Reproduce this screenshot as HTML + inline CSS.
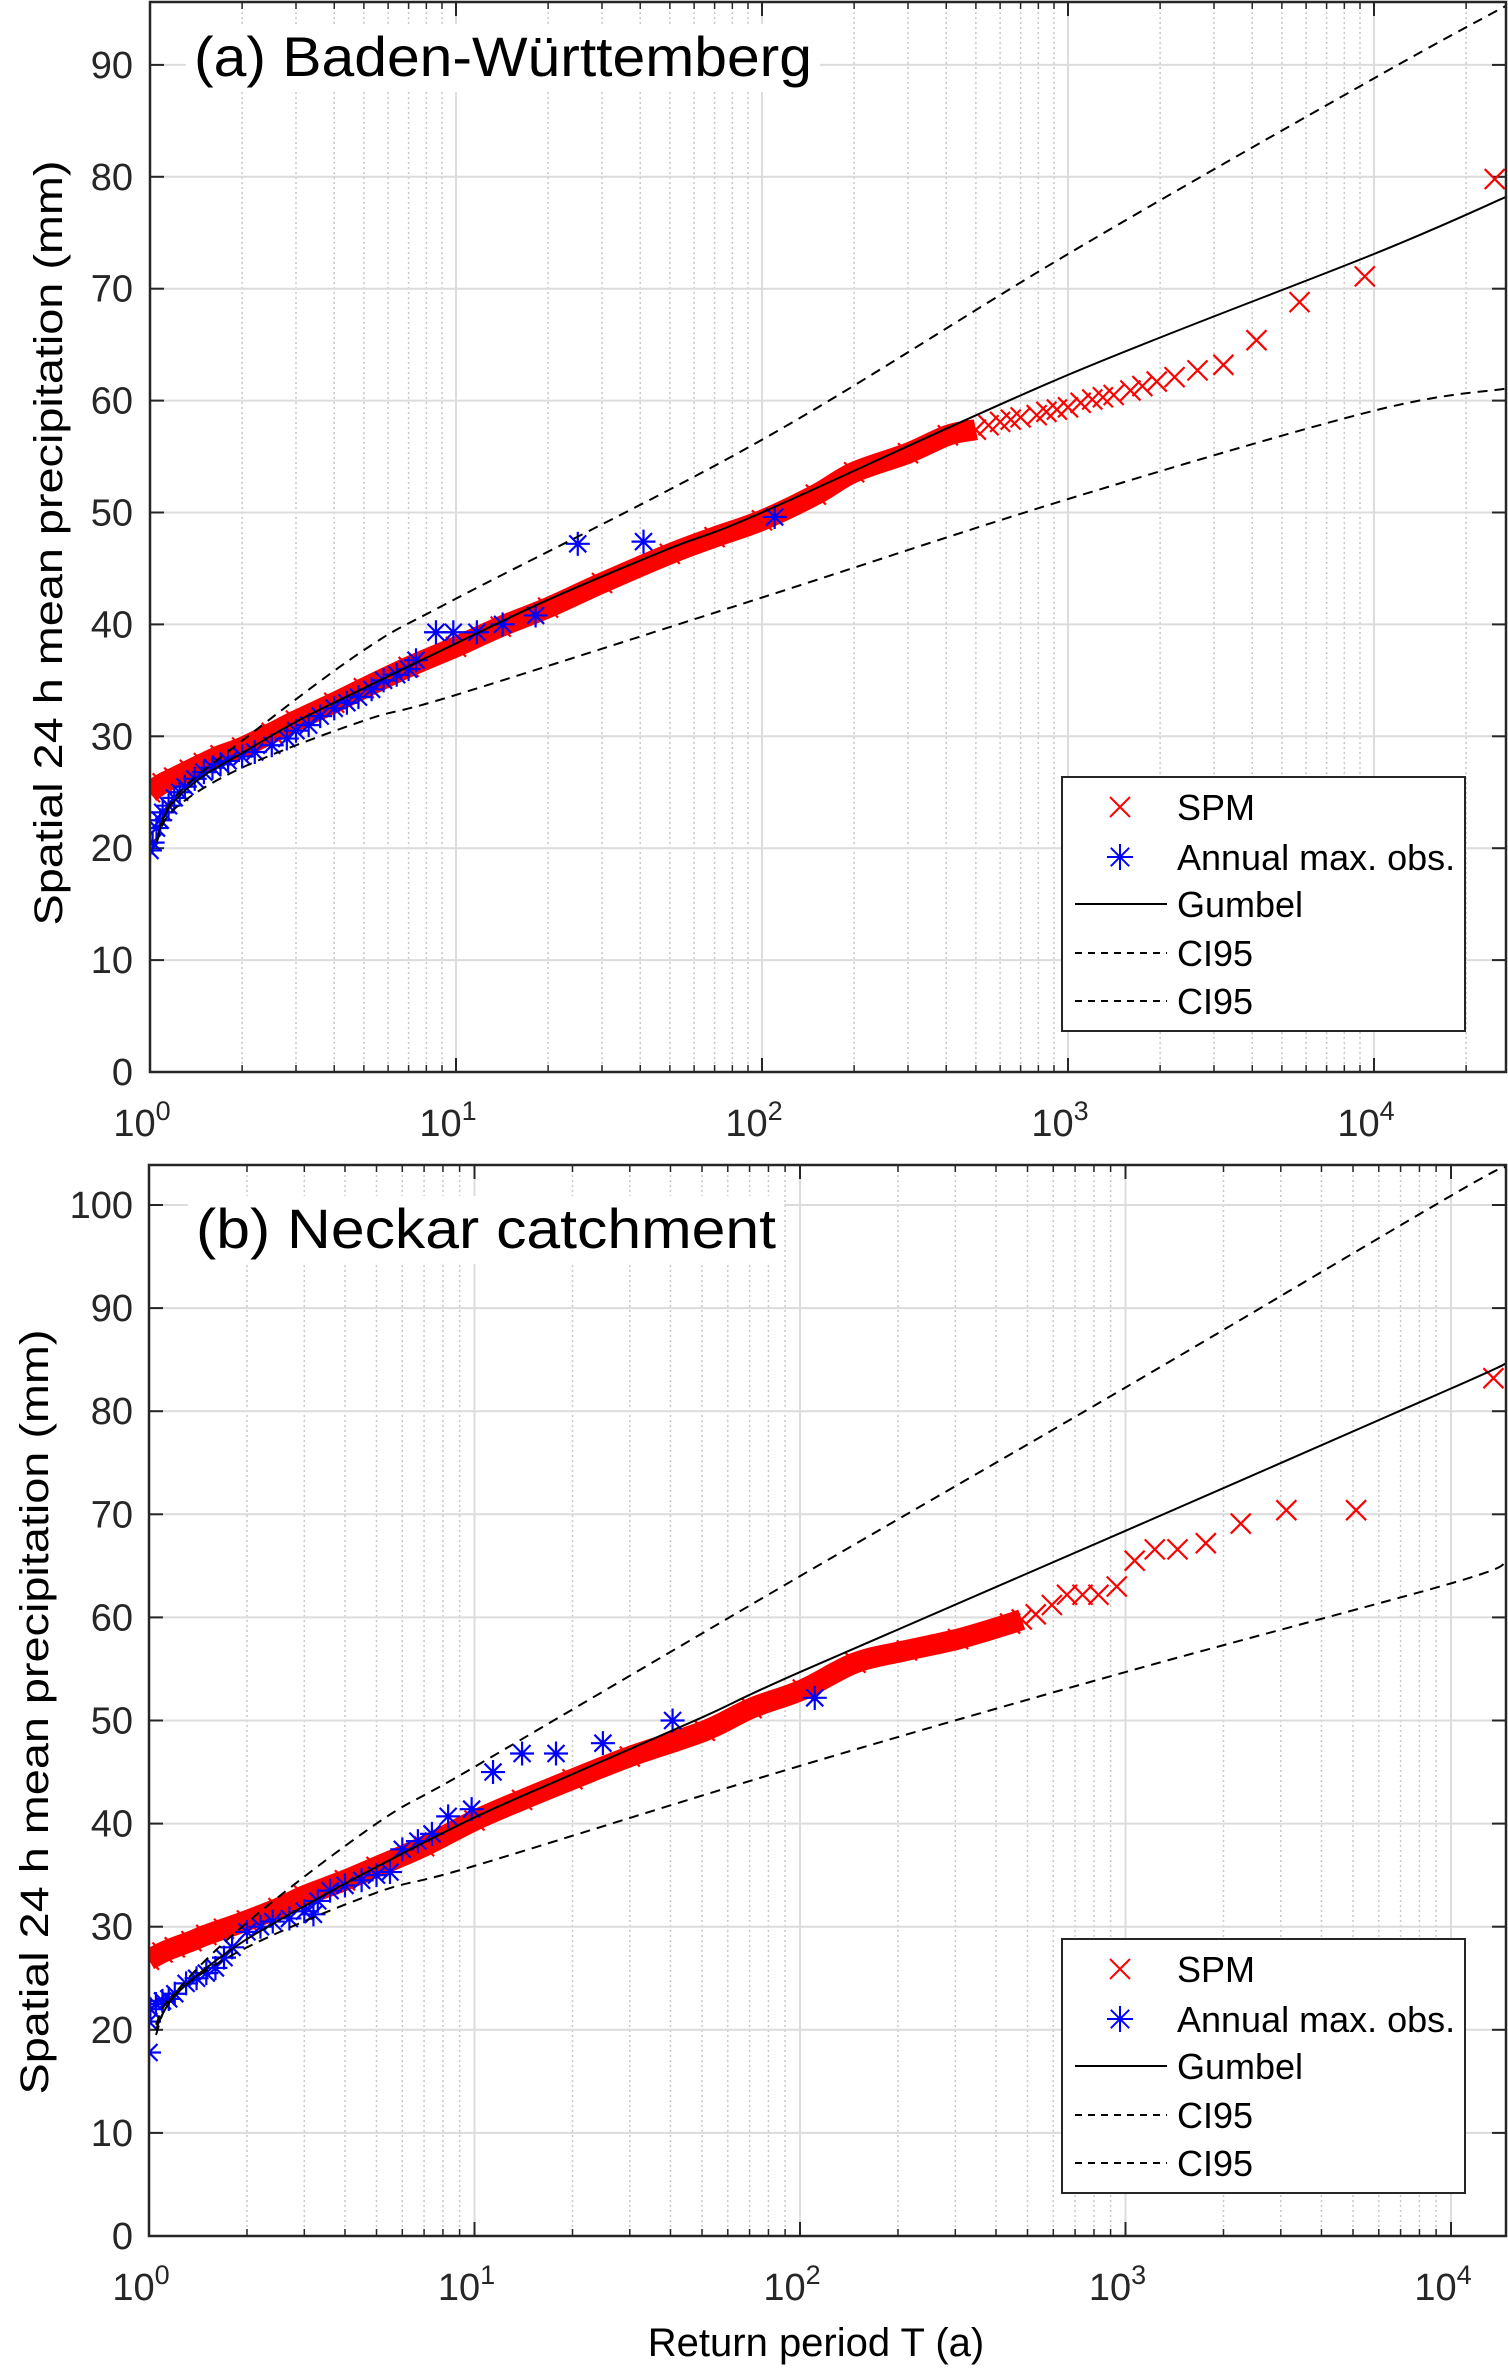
<!DOCTYPE html>
<html><head><meta charset="utf-8">
<style>
html,body{margin:0;padding:0;background:#fff;}
svg{display:block;font-family:"Liberation Sans",sans-serif;}
</style></head>
<body>
<svg id="fig" width="1508" height="2368" viewBox="0 0 1508 2368" xmlns="http://www.w3.org/2000/svg"></svg>
<script>
// ---------- Panel (a) data ----------
const spmA_T = [1.0,1.1,1.2,1.35,1.5,1.7,2,2.5,3,4,5,7,10,14,20,30,50,70,100,150,200,300,405,500,550,600,650,700,790,850,920,1000,1100,1200,1300,1410,1600,1750,1950,2230,2650,3220,4130,5710,9330,24800];
const spmA_V = [25,25.8,26.3,27,27.6,28.3,29,30.3,31.4,33,34.3,36.2,38,39.8,41.5,43.7,46.3,47.8,49.3,51.6,53.6,55.3,56.9,57.4,57.8,58.1,58.3,58.5,58.7,59,59.2,59.4,59.8,60.1,60.3,60.5,60.9,61.3,61.7,62.1,62.7,63.2,65.4,68.8,71.1,79.8];
const obsA_T = [1.0,1.02,1.05,1.08,1.1,1.15,1.2,1.25,1.3,1.4,1.5,1.6,1.7,1.8,2,2.2,2.5,2.8,3,3.3,3.6,4,4.4,4.8,5.3,5.8,6.4,7,7.4,8.6,9.8,11.7,14.2,18.2,25,41,110];
const obsA_V = [19.8,20.5,21.8,22.5,23.2,23.8,24.5,25,25.5,26.2,26.8,27.2,27.5,27.8,28.2,28.6,29.2,29.8,30.5,31,31.8,32.5,33,33.5,34.2,35,35.5,36,36.8,39.3,39.3,39.3,40,40.8,47.2,47.4,49.6];
const gumA_T = [1.05,1.1,1.2,1.5,2,3,5,10,20,50,100,1000,10000,27500];
const gumA_V = [20.5,22.5,24.2,26.5,28.5,31.3,34.3,38.3,42.2,46.8,50,62.3,73.1,78.3];
const ciUpA_T = [1.05,1.2,2,5,10,100,1000,10000,27500];
const ciUpA_V = [20.5,24.5,29.6,37.7,42.3,56.5,73.1,88.8,95.4];
const ciLoA_T = [1.05,1.2,2,5,10,100,1000,10000,27500];
const ciLoA_V = [20.5,23.5,27.2,31.4,33.7,42.4,51.2,59.1,61.1];
const yTicksA = [0,10,20,30,40,50,60,70,80,90];
// ---------- Panel (b) data ----------
const spmB_T = [1,1.1,1.2,1.35,1.5,1.7,2,2.5,3,4,5,7,10,14,20,30,51,71,102,148,213,306,442,480,530,594,661,738,826,940,1067,1230,1445,1765,2260,3120,5110,13500];
const spmB_V = [26.8,27.5,28,28.6,29.2,29.8,30.6,31.8,33,34.5,35.8,37.8,40.3,42.3,44.3,46.5,49,51.2,53,55.6,56.8,57.9,59.4,59.8,60.3,61.2,62.2,62.2,62.2,63,65.5,66.6,66.6,67.2,69.1,70.4,70.4,83.2];
const obsB_T = [1.0,1.0,1.01,1.05,1.1,1.15,1.2,1.3,1.4,1.5,1.6,1.7,1.8,2,2.2,2.4,2.7,3,3.2,3.3,3.6,4,4.5,5,5.5,6,6.7,7.4,8.3,9.8,11.4,14,17.8,24.8,40.6,111];
const obsB_V = [17.8,20.8,22,22.5,22.8,23,23.5,24.5,25,25.5,26,27,28,29.5,30,30.5,30.8,31.5,31.2,32.5,33.5,34,34.5,35,35.3,37.5,38.3,39,40.7,41.4,45,46.8,46.8,47.8,50,52.2];
const gumB_T = [1.05,1.1,1.2,1.5,2,3,5,10,20,50,100,1000,10000,14900];
const gumB_V = [20,21.5,23.3,26,28.8,32,35.8,40.6,44.8,50.3,54.7,68.4,82.2,84.7];
const ciUpB_T = [1.05,1.2,2,5,10,100,1000,10000,14900];
const ciUpB_V = [19.5,23.5,30.4,40,45.5,64,82.3,100.9,103.8];
const ciLoB_T = [1.05,1.2,2,5,10,100,1000,10000,14900];
const ciLoB_V = [20.5,23.5,28,33.3,35.9,45.6,54.7,63.3,65.4];
const yTicksB = [0,10,20,30,40,50,60,70,80,90,100];
const xDecades = [0,1,2,3,4];
const legendLabels = ["SPM","Annual max. obs.","Gumbel","CI95","CI95"];

const NS = "http://www.w3.org/2000/svg";
const svg = document.getElementById('fig');
function mk(tag, attrs, parent){
  const e = document.createElementNS(NS, tag);
  for (const k in attrs) e.setAttribute(k, attrs[k]);
  (parent||svg).appendChild(e);
  return e;
}
// smooth path through pixel points (Catmull-Rom)
function smoothPath(P){
  let d = `M${P[0][0]},${P[0][1]}`;
  for (let i = 0; i < P.length-1; i++){
    const p0 = P[Math.max(i-1,0)], p1 = P[i], p2 = P[i+1], p3 = P[Math.min(i+2,P.length-1)];
    const c1 = [p1[0]+(p2[0]-p0[0])/6, p1[1]+(p2[1]-p0[1])/6];
    const c2 = [p2[0]-(p3[0]-p1[0])/6, p2[1]-(p3[1]-p1[1])/6];
    d += `C${c1[0]},${c1[1]} ${c2[0]},${c2[1]} ${p2[0]},${p2[1]}`;
  }
  return d;
}

function panel(cfg){
  const g = mk('g', {});
  
  
  const L = cfg.left, R = cfg.right, T0 = cfg.top, B = cfg.bottom;
  const xs = t => L + Math.log10(t) * cfg.dec;
  const ys = v => B - v * cfg.per10 / 10;
  const xmaxLog = (R - L) / cfg.dec;
  const grid = mk('g', {}, g);
  
  
  for (let d = 0; d <= Math.ceil(xmaxLog); d++){
    for (let m = 2; m <= 9; m++){
      const lx = d + Math.log10(m);
      if (lx > xmaxLog) continue;
      const x = L + lx * cfg.dec;
      mk('line', {x1:x, x2:x, y1:T0, y2:B, stroke:'#c8c8c8', 'stroke-width':1.5, 'stroke-dasharray':'2 3'}, grid);
      mk('line', {x1:x, x2:x, y1:B, y2:B-7, stroke:'#262626', 'stroke-width':1.5}, grid);
      mk('line', {x1:x, x2:x, y1:T0, y2:T0+7, stroke:'#262626', 'stroke-width':1.5}, grid);
    }
  }
  xDecades.forEach(d => {
    const x = L + d * cfg.dec;
    mk('line', {x1:x, x2:x, y1:T0, y2:B, stroke:'#dcdcdc', 'stroke-width':2}, grid);
    mk('line', {x1:x, x2:x, y1:B, y2:B-14, stroke:'#262626', 'stroke-width':2}, grid);
    mk('line', {x1:x, x2:x, y1:T0, y2:T0+14, stroke:'#262626', 'stroke-width':2}, grid);
    const t = mk('text', {x:x-8, y:cfg.xlabY, 'font-size':38, fill:'#262626', 'text-anchor':'middle'}, g);
    
    
    t.textContent = '10';
    const s = mk('tspan', {dy:-16, 'font-size':27}, t);
    s.textContent = String(d);
  });
  cfg.yTicks.forEach(v => {
    const y = ys(v);
    mk('line', {x1:L, x2:R, y1:y, y2:y, stroke:'#dcdcdc', 'stroke-width':2}, grid);
    mk('line', {x1:L, x2:L+14, y1:y, y2:y, stroke:'#262626', 'stroke-width':2}, grid);
    mk('line', {x1:R, x2:R-14, y1:y, y2:y, stroke:'#262626', 'stroke-width':2}, grid);
    const t = mk('text', {x:133, y:y+13, 'font-size':38, fill:'#262626', 'text-anchor':'end'}, g);
    
    
    t.textContent = String(v);
  });
  const tb = mk('rect', {x:cfg.titleX-8, y:cfg.titleY-52, width:cfg.titleW+16, height:68, fill:'#fff'}, g);
  
  
  const title = mk('text', {x:cfg.titleX, y:cfg.titleY, 'font-size':56, fill:'#000', textLength:cfg.titleW, lengthAdjust:'spacingAndGlyphs'}, g);
  
  
  title.textContent = cfg.title;

  const clipId = cfg.name + '-clip';
  const defs = mk('defs', {}, g);
  const cp = mk('clipPath', {id:clipId}, defs);
  mk('rect', {x:L, y:T0, width:R-L, height:B-T0}, cp);
  const plot = mk('g', {'clip-path':'url(#'+clipId+')'}, g);
  
  

  let pts = [];
  cfg.spmT.forEach((t,i) => { if (t <= 510) pts.push([xs(t), ys(cfg.spmV[i])]); });
  const band = mk('path', {d:smoothPath(pts), fill:'none', stroke:'#ff0000', 'stroke-width':21, 'stroke-linecap':'butt', 'stroke-linejoin':'round'}, plot);
  
  
  cfg.spmT.forEach((t,i) => {
    const x = xs(t), y = ys(cfg.spmV[i]), r = 10;
    const p = mk('path', {d:`M${x-r},${y-r}L${x+r},${y+r}M${x-r},${y+r}L${x+r},${y-r}`, stroke:'#ff0000', 'stroke-width':2.2, fill:'none'}, plot);
    
    
  });
  cfg.obsT.forEach((t,i) => {
    const x = xs(t), y = ys(cfg.obsV[i]), r = 12, d = r*0.707;
    const p = mk('path', {d:`M${x-r},${y}L${x+r},${y}M${x},${y-r}L${x},${y+r}M${x-d},${y-d}L${x+d},${y+d}M${x-d},${y+d}L${x+d},${y-d}`, stroke:'#0000ff', 'stroke-width':2.2, fill:'none'}, plot);
    
    
  });
  function line(T, V, dash, name){
    const P = T.map((t,i)=>[xs(t), ys(V[i])]);
    const p = mk('path', {d:smoothPath(P), fill:'none', stroke:'#000', 'stroke-width':2, 'stroke-dasharray':dash||'none'}, plot);
    
    
  }
  line(cfg.gumT, cfg.gumV, null, 'gumbel-line');
  line(cfg.upT, cfg.upV, '10 7', 'ci95-upper-line');
  line(cfg.loT, cfg.loV, '10 7', 'ci95-lower-line');

  const box = mk('rect', {x:L, y:T0, width:R-L, height:B-T0, fill:'none', stroke:'#262626', 'stroke-width':2.5}, g);
  
  

  const yl = mk('text', {transform:`translate(${cfg.ylabX},${cfg.ylabY}) rotate(-90)`, 'font-size':40, 'text-anchor':'middle', fill:'#000', textLength:765, lengthAdjust:'spacingAndGlyphs'}, g);
  
  
  yl.textContent = 'Spatial 24 h mean precipitation (mm)';

  const lg = mk('g', {}, g);
  
  
  mk('rect', {x:1062, y:cfg.legTop, width:403, height:254, fill:'#fff', stroke:'#262626', 'stroke-width':2}, lg);
  const rows = [30, 80, 127, 176, 224];
  legendLabels.forEach((lab, i) => {
    const cy = cfg.legTop + rows[i];
    const e = mk('g', {}, lg);
    
    
    if (i === 0){
      const r = 10, x = 1120;
      mk('path', {d:`M${x-r},${cy-r}L${x+r},${cy+r}M${x-r},${cy+r}L${x+r},${cy-r}`, stroke:'#ff0000', 'stroke-width':2, fill:'none'}, e);
    } else if (i === 1){
      const r = 13, x = 1120, d = r*0.707;
      mk('path', {d:`M${x-r},${cy}L${x+r},${cy}M${x},${cy-r}L${x},${cy+r}M${x-d},${cy-d}L${x+d},${cy+d}M${x-d},${cy+d}L${x+d},${cy-d}`, stroke:'#0000ff', 'stroke-width':2, fill:'none'}, e);
    } else {
      mk('line', {x1:1075, x2:1167, y1:cy, y2:cy, stroke:'#000', 'stroke-width':2, 'stroke-dasharray': i===2 ? 'none' : '7 6'}, e);
    }
    const t = mk('text', {x:1177, y:cy+13, 'font-size':36, fill:'#000'}, e);
    t.textContent = lab;
  });
}

panel({name:'panel-a-baden-wuerttemberg', left:150, right:1506, top:2, bottom:1072, dec:306, per10:111.9,
  yTicks:yTicksA, xlabY:1136, title:'(a) Baden-Württemberg', titleX:194, titleY:76, titleW:618,
  ylabX:62, ylabY:543, legTop:777,
  spmT:spmA_T, spmV:spmA_V, obsT:obsA_T, obsV:obsA_V, gumT:gumA_T, gumV:gumA_V,
  upT:ciUpA_T, upV:ciUpA_V, loT:ciLoA_T, loV:ciLoA_V});
panel({name:'panel-b-neckar-catchment', left:149, right:1506, top:1165, bottom:2236, dec:325.5, per10:103.1,
  yTicks:yTicksB, xlabY:2300, title:'(b) Neckar catchment', titleX:196, titleY:1248, titleW:580,
  ylabX:48, ylabY:1712, legTop:1939,
  spmT:spmB_T, spmV:spmB_V, obsT:obsB_T, obsV:obsB_V, gumT:gumB_T, gumV:gumB_V,
  upT:ciUpB_T, upV:ciUpB_V, loT:ciLoB_T, loV:ciLoB_V});

const xl = mk('text', {x:816, y:2356, 'font-size':40, 'text-anchor':'middle', fill:'#000'});


xl.textContent = 'Return period T (a)';
</script>
</body></html>
